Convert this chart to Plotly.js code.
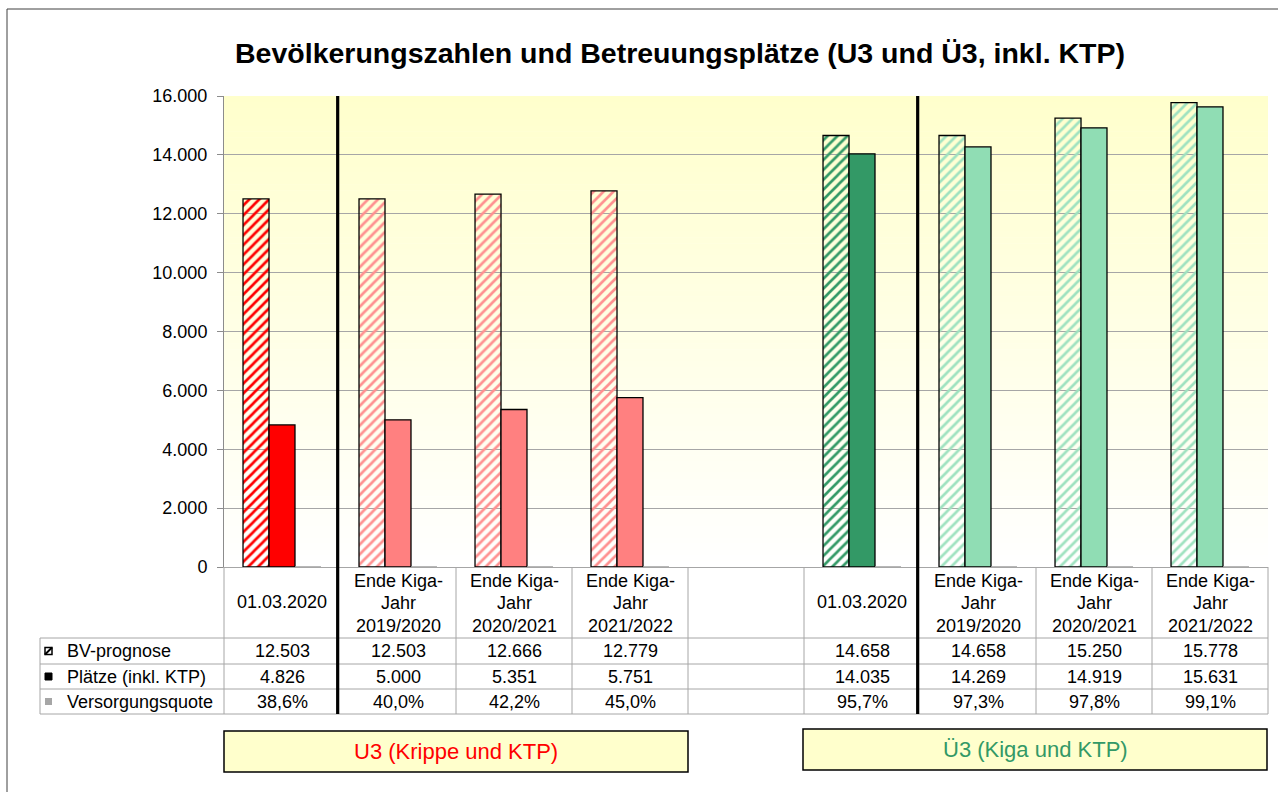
<!DOCTYPE html>
<html><head><meta charset="utf-8">
<script src="https://cdn.plot.ly/plotly-3.0.1.min.js"></script>
<style>html,body{margin:0;padding:0;background:#fff;}#chart{width:1278px;height:792px;}</style>
</head><body><div id="chart"></div>
<script>
// ---------- data ----------
const categoryLabels = [
  '01.03.2020',
  'Ende Kiga-\nJahr\n2019/2020',
  'Ende Kiga-\nJahr\n2020/2021',
  'Ende Kiga-\nJahr\n2021/2022',
  '',
  '01.03.2020',
  'Ende Kiga-\nJahr\n2019/2020',
  'Ende Kiga-\nJahr\n2020/2021',
  'Ende Kiga-\nJahr\n2021/2022'
];
const bvPrognose      = [12503, 12503, 12666, 12779, null, 14658, 14658, 15250, 15778];
const plaetze         = [4826, 5000, 5351, 5751, null, 14035, 14269, 14919, 15631];
const versorgungsquote = [38.6, 40.0, 42.2, 45.0, null, 95.7, 97.3, 97.8, 99.1];
const rowNames   = ['BV-prognose', 'Plätze (inkl. KTP)', 'Versorgungsquote'];
const groupNames = ['U3 (Krippe und KTP)', 'Ü3 (Kiga und KTP)'];
const chartTitle = 'Bevölkerungszahlen und Betreuungsplätze (U3 und Ü3, inkl. KTP)';

// ---------- styles ----------
const solidColors = ['#FF0000','#FF8080','#FF8080','#FF8080','#FFFFFF','#339966','#90DDB4','#90DDB4','#90DDB4'];
const hatchColors = ['#FF0000','#FF9090','#FF9090','#FF9090','#FFFFFF','#339966','#9FE2C0','#9FE2C0','#9FE2C0'];
const FONT = '"Liberation Sans", Arial, sans-serif';
const W = 1278, H = 792;
const L = 224, R = 1268, T = 96, B = 567;
const px = x => (x - L) / (R - L);
const py = y => (B - y) / (B - T);
const idx = categoryLabels.map((_, i) => i);

function fmtInt(n) { return String(n).replace(/\B(?=(\d{3})+(?!\d))/g, '.'); }
function fmtPct(v) { return v.toFixed(1).replace('.', ',') + '%'; }

// ---------- traces ----------
const traces = [
  {
    type: 'bar', x: idx, y: bvPrognose, name: rowNames[0],
    marker: {
      color: hatchColors,
      line: {color: '#000', width: 1.3},
      pattern: {shape: '/', fgcolor: hatchColors, bgcolor: '#FFFFFF', size: 7, solidity: 0.38, fillmode: 'replace'}
    }
  },
  {
    type: 'bar', x: idx, y: plaetze, name: rowNames[1],
    marker: {color: solidColors, line: {color: '#000', width: 1.3}}
  },
  {
    type: 'bar', x: idx, y: versorgungsquote.map(v => v == null ? null : v / 100), name: rowNames[2],
    marker: {color: '#A0A0A0', line: {color: '#A0A0A0', width: 1}}
  }
];

// ---------- shapes ----------
const shapes = [];
// background gradient of plot area
const N = 80;
for (let k = 0; k < N; k++) {
  const y0 = T + k * (B - T) / N, y1 = T + (k + 1) * (B - T) / N + 0.5;
  const b = Math.round(204 + (255 - 204) * (k + 0.5) / N);
  shapes.push({type: 'rect', xref: 'paper', yref: 'paper', x0: 0, x1: 1, y0: py(y1), y1: py(y0),
    fillcolor: `rgb(255,255,${b})`, line: {width: 0}, layer: 'below'});
}
// outer frame
const frameCol = '#404040';
shapes.push({type: 'line', xref: 'paper', yref: 'paper', x0: px(7), x1: px(1290), y0: py(9), y1: py(9), line: {color: frameCol, width: 1}});
shapes.push({type: 'line', xref: 'paper', yref: 'paper', x0: px(7), x1: px(7), y0: py(9), y1: py(800), line: {color: frameCol, width: 1}});

// table grid
const gridCol = '#A6A6A6';
const rowLines = [638, 664, 689, 714];
rowLines.forEach(y => shapes.push({type: 'line', xref: 'paper', yref: 'paper', x0: px(40), x1: px(R), y0: py(y), y1: py(y), line: {color: gridCol, width: 1}}));
shapes.push({type: 'line', xref: 'paper', yref: 'paper', x0: px(40), x1: px(40), y0: py(638), y1: py(714), line: {color: gridCol, width: 1}});
shapes.push({type: 'line', xref: 'paper', yref: 'paper', x0: 0, x1: 0, y0: 0, y1: py(714), line: {color: gridCol, width: 1}});
shapes.push({type: 'line', xref: 'paper', yref: 'paper', x0: 1, x1: 1, y0: 0, y1: py(714), line: {color: gridCol, width: 1}});
const thickAt = [0, 5];
for (let i = 0; i < categoryLabels.length - 1; i++) {
  if (thickAt.includes(i)) continue;
  shapes.push({type: 'line', xref: 'x', yref: 'paper', x0: i + 0.5, x1: i + 0.5, y0: 0, y1: py(714), line: {color: gridCol, width: 1}});
}
// thick separators
thickAt.forEach(i => shapes.push({type: 'line', xref: 'x', yref: 'paper', x0: i + 0.48, x1: i + 0.48, y0: py(714), y1: 1, line: {color: '#000', width: 3.2}}));

// row keys
const keyX0 = 45, keyX1 = 52;
const rowCenters = [651, 676.5, 701.5];
shapes.push({type: 'rect', xref: 'paper', yref: 'paper', x0: px(keyX0), x1: px(keyX1), y0: py(rowCenters[0] + 3.5), y1: py(rowCenters[0] - 3.5), fillcolor: '#fff', line: {color: '#000', width: 1.5}});
shapes.push({type: 'line', xref: 'paper', yref: 'paper', x0: px(keyX0), x1: px(keyX1), y0: py(rowCenters[0] + 3.5), y1: py(rowCenters[0] - 3.5), line: {color: '#000', width: 2}});
shapes.push({type: 'rect', xref: 'paper', yref: 'paper', x0: px(keyX0), x1: px(keyX1), y0: py(rowCenters[1] + 3.5), y1: py(rowCenters[1] - 3.5), fillcolor: '#000', line: {color: '#000', width: 1}});
shapes.push({type: 'rect', xref: 'paper', yref: 'paper', x0: px(keyX0), x1: px(keyX1), y0: py(rowCenters[2] + 3.5), y1: py(rowCenters[2] - 3.5), fillcolor: '#A6A6A6', line: {width: 0}});

// group boxes
const boxes = [
  {x0: 224, x1: 688, y0: 731, y1: 772, color: '#FF0000'},
  {x0: 803, x1: 1267, y0: 729, y1: 770, color: '#339966'}
];
boxes.forEach(bx => shapes.push({type: 'rect', xref: 'paper', yref: 'paper', x0: px(bx.x0), x1: px(bx.x1), y0: py(bx.y1), y1: py(bx.y0),
  fillcolor: '#FFFFCC', line: {color: '#000', width: 1.5}}));

// ---------- annotations ----------
const annotations = [];
const tf = {family: FONT, size: 18, color: '#000'};
// category labels
categoryLabels.forEach((lab, i) => {
  if (!lab) return;
  const lines = lab.split('\n');
  const ys = lines.length === 1 ? [602] : [581, 603, 626];
  lines.forEach((ln, j) => annotations.push({xref: 'x', yref: 'paper', x: i, y: py(ys[j]), text: ln, showarrow: false,
    xanchor: 'center', yanchor: 'middle', font: tf}));
});
// table values
const rows = [
  bvPrognose.map(v => v == null ? '' : fmtInt(v)),
  plaetze.map(v => v == null ? '' : fmtInt(v)),
  versorgungsquote.map(v => v == null ? '' : fmtPct(v))
];
rows.forEach((r, ri) => {
  r.forEach((t, i) => { if (t) annotations.push({xref: 'x', yref: 'paper', x: i, y: py(rowCenters[ri]), text: t, showarrow: false,
    xanchor: 'center', yanchor: 'middle', font: tf}); });
  annotations.push({xref: 'paper', yref: 'paper', x: px(65), y: py(rowCenters[ri]), text: rowNames[ri], showarrow: false,
    xanchor: 'left', yanchor: 'middle', font: tf});
});
// group labels
boxes.forEach((bx, i) => annotations.push({xref: 'paper', yref: 'paper', x: px((bx.x0 + bx.x1) / 2), y: py((bx.y0 + bx.y1) / 2),
  text: groupNames[i], showarrow: false, xanchor: 'center', yanchor: 'middle', font: {family: FONT, size: 22, color: bx.color}}));

// ---------- layout ----------
const layout = {
  width: W, height: H,
  margin: {l: L, r: W - R, t: T, b: H - B, pad: 0},
  paper_bgcolor: '#FFFFFF', plot_bgcolor: 'rgba(0,0,0,0)',
  separators: ',.',
  showlegend: false, hovermode: false,
  barmode: 'group', bargap: 0.328, bargroupgap: 0,
  title: {text: chartTitle, x: 680 / W, xanchor: 'center', y: 1 - 53 / H, yanchor: 'middle', xref: 'container', yref: 'container',
    font: {family: FONT, size: 28.5, color: '#000', weight: 'bold'}},
  xaxis: {range: [-0.5, 8.5], showticklabels: false, showgrid: false, zeroline: false, showline: true, linecolor: gridCol, ticks: '', fixedrange: true},
  yaxis: {range: [0, 16000], dtick: 2000, tickformat: ',d', showgrid: true, gridcolor: '#A6A6A6', gridwidth: 1, zeroline: false,
    showline: true, linecolor: '#8C8C8C', ticks: 'outside', ticklen: 6, tickcolor: '#8C8C8C', ticklabelstandoff: 6,
    tickfont: {family: FONT, size: 18, color: '#000'}, fixedrange: true},
  shapes: shapes,
  annotations: annotations
};

Plotly.newPlot('chart', traces, layout, {displayModeBar: false, staticPlot: true});
</script>
</body></html>
